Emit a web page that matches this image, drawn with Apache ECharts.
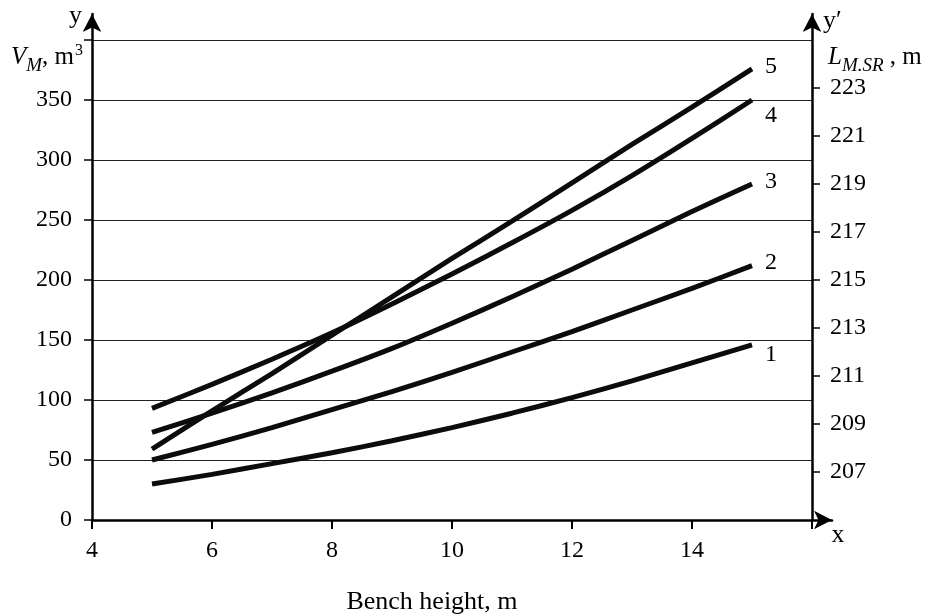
<!DOCTYPE html>
<html>
<head>
<meta charset="utf-8">
<script src="https://cdn.jsdelivr.net/npm/echarts@6/dist/echarts.min.js"></script>
<style>
html,body{margin:0;padding:0;background:#fff;}
#chart{width:936px;height:614px;}
</style>
</head>
<body>
<div id="chart"></div>
<script>
// Bench height, m
const xValues = [5, 6, 7, 8, 9, 10, 11, 12, 13, 14, 15];
// Curves (left axis scale, V_M)
const curve1 = [30, 38, 47, 56, 66, 77, 89, 102, 116, 131, 146];
const curve2 = [50, 63, 77, 92, 107, 123, 140, 157, 175, 193, 212];
const curve3 = [73, 89, 106, 124, 143, 164, 186, 209, 233, 257, 280];
const curve4 = [93, 113, 134, 156, 180, 205, 231, 258, 287, 318, 350];
const curve5 = [59, 91, 122, 154, 186, 218, 249, 281, 313, 344, 376];
const curveNames = ['1', '2', '3', '4', '5'];
const curveValues = [curve1, curve2, curve3, curve4, curve5];
const labelDy = [10, -3, -2, 16, -2];
// Tick labels
const xTickLabels = [4, 6, 8, 10, 12, 14];
const leftTickLabels = [0, 50, 100, 150, 200, 250, 300, 350];
const rightTickLabels = [207, 209, 211, 213, 215, 217, 219, 221, 223];

const FONT = "'Liberation Serif', 'DejaVu Serif', serif";
const chart = echarts.init(document.getElementById('chart'), null, {renderer: 'canvas'});

const arrowLine = {
  show: true,
  symbol: ['none', 'arrow'],
  symbolSize: [14, 18],
  lineStyle: {color: '#000', width: 2.5}
};

const series = curveNames.map((n, i) => ({
  name: n,
  type: 'line',
  xAxisIndex: 0,
  yAxisIndex: 0,
  smooth: 0.25,
  showSymbol: false,
  symbol: 'none',
  lineStyle: {color: '#0d0b0b', width: 5},
  itemStyle: {color: '#0d0b0b'},
  data: xValues.map((x, k) => [x, curveValues[i][k]]),
  endLabel: {
    show: true,
    formatter: '{a}',
    fontFamily: FONT,
    fontSize: 24,
    color: '#000',
    distance: 13,
    offset: [0, labelDy[i]]
  }
}));

const nameRich = {
  i: {fontFamily: FONT, fontSize: 25, fontStyle: 'italic', lineHeight: 38, color: '#000'},
  n: {fontFamily: FONT, fontSize: 25, lineHeight: 38, color: '#000'},
  sub: {fontFamily: FONT, fontSize: 19, fontStyle: 'italic', lineHeight: 19, verticalAlign: 'top', padding: [18, 0, 0, 0], color: '#000'},
  sup: {fontFamily: FONT, fontSize: 16, lineHeight: 16, verticalAlign: 'top', padding: [5, 0, 0, 1], color: '#000'}
};

const gridBase = {outerBoundsMode: 'none', containLabel: false};

const option = {
  animation: false,
  backgroundColor: '#fff',
  textStyle: {fontFamily: FONT},
  grid: [
    Object.assign({left: 92, right: 124, top: 40, bottom: 94}, gridBase),
    Object.assign({left: 92, right: 124, top: 14, bottom: 94}, gridBase),
    Object.assign({left: 92, right: 104, top: 40, bottom: 94}, gridBase)
  ],
  xAxis: [
    {
      type: 'value', gridIndex: 0, min: 4, max: 16, interval: 2,
      axisLine: {show: false},
      axisTick: {show: true, length: 9, lineStyle: {color: '#000', width: 2}},
      axisLabel: {
        margin: 19, fontSize: 24, color: '#000', fontFamily: FONT,
        formatter: v => (xTickLabels.indexOf(v) >= 0 ? String(v) : '')
      },
      splitLine: {show: false},
      name: 'Bench height, m',
      nameLocation: 'middle',
      nameGap: 69,
      nameTextStyle: {fontSize: 26, color: '#000', fontFamily: FONT, padding: [0, 40, 0, 0]}
    },
    {type: 'value', gridIndex: 1, show: false, min: 0, max: 1},
    {
      type: 'value', gridIndex: 2, min: 0, max: 1,
      axisLine: arrowLine,
      axisTick: {show: false}, axisLabel: {show: false}, splitLine: {show: false},
      name: 'x', nameLocation: 'end', nameGap: 6,
      nameTextStyle: {fontSize: 26, color: '#000', fontFamily: FONT, align: 'center', verticalAlign: 'top', padding: [2, 0, 0, 0]}
    }
  ],
  yAxis: [
    {
      type: 'value', gridIndex: 0, position: 'left', min: 0, max: 400, interval: 50,
      axisLine: {show: false},
      axisTick: {show: true, length: 8, lineStyle: {color: '#000', width: 1.5}},
      axisLabel: {
        margin: 20, fontSize: 24, color: '#000', fontFamily: FONT,
        formatter: v => (leftTickLabels.indexOf(v) >= 0 ? String(v) : '')
      },
      splitLine: {show: true, lineStyle: {color: '#222', width: 1.2}},
      name: '{i|V}{sub|M}{n|, m}{sup|3}',
      nameLocation: 'end', nameGap: -17,
      nameTextStyle: {align: 'right', verticalAlign: 'middle', padding: [0, 9, 0, 0], rich: nameRich}
    },
    {
      type: 'value', gridIndex: 0, position: 'right', min: 205, max: 225, interval: 2,
      axisLine: {show: false},
      axisTick: {show: true, length: 8, customValues: rightTickLabels, lineStyle: {color: '#000', width: 1.5}},
      axisLabel: {
        margin: 18, fontSize: 24, color: '#000', fontFamily: FONT,
        customValues: rightTickLabels
      },
      splitLine: {show: false},
      name: '{i|L}{sub|M.SR}{n| , m}',
      nameLocation: 'end', nameGap: -17,
      nameTextStyle: {align: 'left', verticalAlign: 'middle', padding: [0, 0, 0, 16], rich: nameRich}
    },
    {
      type: 'value', gridIndex: 1, position: 'left', min: 0, max: 1,
      axisLine: arrowLine,
      axisTick: {show: false}, axisLabel: {show: false}, splitLine: {show: false},
      name: 'y', nameLocation: 'end', nameGap: -2,
      nameTextStyle: {fontSize: 26, color: '#000', fontFamily: FONT, align: 'right', verticalAlign: 'middle', padding: [0, 10, 0, 0]}
    },
    {
      type: 'value', gridIndex: 1, position: 'right', min: 0, max: 1,
      axisLine: arrowLine,
      axisTick: {show: false}, axisLabel: {show: false}, splitLine: {show: false},
      name: 'y\u2032', nameLocation: 'end', nameGap: -7,
      nameTextStyle: {fontSize: 26, color: '#000', fontFamily: FONT, align: 'left', verticalAlign: 'middle', padding: [0, 0, 0, 11]}
    },
    {type: 'value', gridIndex: 2, show: false, min: 0, max: 1}
  ],
  series: series
};
chart.setOption(option);
</script>
</body>
</html>
